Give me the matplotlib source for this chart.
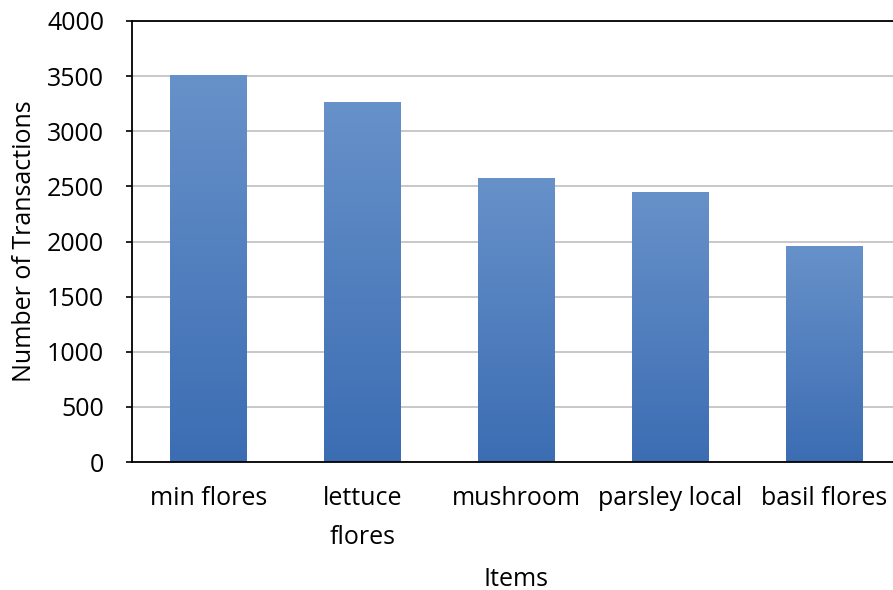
import numpy as np
import matplotlib.pyplot as plt
from matplotlib.colors import LinearSegmentedColormap

items = ['min flores', 'lettuce\nflores', 'mushroom', 'parsley local', 'basil flores']
transactions = [3510, 3265, 2580, 2445, 1955]
yticks = [0, 500, 1000, 1500, 2000, 2500, 3000, 3500, 4000]

plt.rcParams['font.family'] = ['Open Sans', 'DejaVu Sans']

fig = plt.figure(figsize=(8.93, 5.90), dpi=100)
ax = fig.add_axes([132/893, 128/590, 769/893, 441/590])

x = np.arange(len(items))
bars = ax.bar(x, transactions, width=0.5, color='#4f7fc0', zorder=2)

# vertical gradient on each bar, light top -> dark bottom
cmap = LinearSegmentedColormap.from_list('g', ['#3c6db3', '#6791c9'])
grad = np.linspace(0, 1, 256).reshape(-1, 1)
for b in bars:
    x0, y0 = b.get_x(), b.get_y()
    w, h = b.get_width(), b.get_height()
    im = ax.imshow(grad, cmap=cmap, origin='lower', aspect='auto',
                   extent=[x0, x0 + w, y0, y0 + h], zorder=2.5)
    im.set_clip_path(b)

ax.set_xlim(-0.5, len(items) - 0.5)
ax.set_ylim(0, 4000)
ax.set_yticks(yticks)
ax.set_xticks(x)
ax.set_xticklabels(items, linespacing=1.75)

ax.yaxis.grid(True, color='#c8c8c8', lw=1.4, zorder=1)
ax.set_axisbelow(True)
for s in ['left', 'bottom', 'top']:
    ax.spines[s].set_linewidth(1.3)
ax.spines['right'].set_visible(False)

ax.tick_params(axis='y', direction='out', length=4, width=1.2, pad=16, labelsize=18, colors='black')
ax.tick_params(axis='x', direction='in', length=4, width=1.2, pad=17, labelsize=18)

ax.set_ylabel('Number of Transactions', fontsize=18, labelpad=7)
ax.set_xlabel('Items', fontsize=18, labelpad=12)

fig.savefig('out.png', dpi=100)
